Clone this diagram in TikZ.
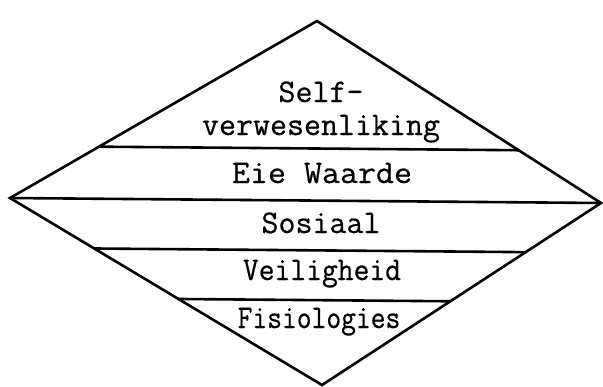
\documentclass[tikz,border=0pt]{standalone}
\usepackage{fontspec}
\setmonofont{Latin Modern Mono}[FakeBold=0.6]
\usepackage{tikz}
\usetikzlibrary{calc}
\tikzset{
  tier/.style={font=\ttfamily\fontsize{33}{35}\selectfont,anchor=base,inner sep=0pt},
  squeeze/.style={transform shape,xscale=#1},
  edge/.style={line width=2.6pt,line join=miter,line cap=round}
}

\begin{document}
\begin{tikzpicture}[x=1pt,y=-1pt]
  \useasboundingbox (0,0) rectangle (603,386);
  % Corners of the diamond
  \coordinate (top) at (317,21);
  \coordinate (left) at (10,198);
  \coordinate (right) at (601,203);
  \coordinate (bottom) at (322,385);
  % Outline
  \draw[edge] (top) -- (right) -- (bottom) -- (left) -- cycle;
  % Dividing lines between the levels
  \draw[edge] ($(left)!0.29!(top)$) -- ($(right)!0.29!(top)$);
  \draw[edge] (left) -- (right);
  \draw[edge] ($(left)!0.27!(bottom)$) -- ($(right)!0.27!(bottom)$);
  \draw[edge] ($(left)!0.54!(bottom)$) -- ($(right)!0.54!(bottom)$);
  % Level names
  \node[tier] (self) at (321,102) {Self-};
  \node[tier] (selfb) at (321,135) {verwesenliking};
  \node[tier,squeeze=1.06] (esteem) at (322,183) {Eie Waarde};
  \node[tier] (social) at (321,233) {Sosiaal};
  \node[tier,squeeze=0.93] (safety) at (322,280) {Veiligheid};
  \node[tier,squeeze=0.87] (physio) at (319,328) {Fisiologies};
\end{tikzpicture}
\end{document}
